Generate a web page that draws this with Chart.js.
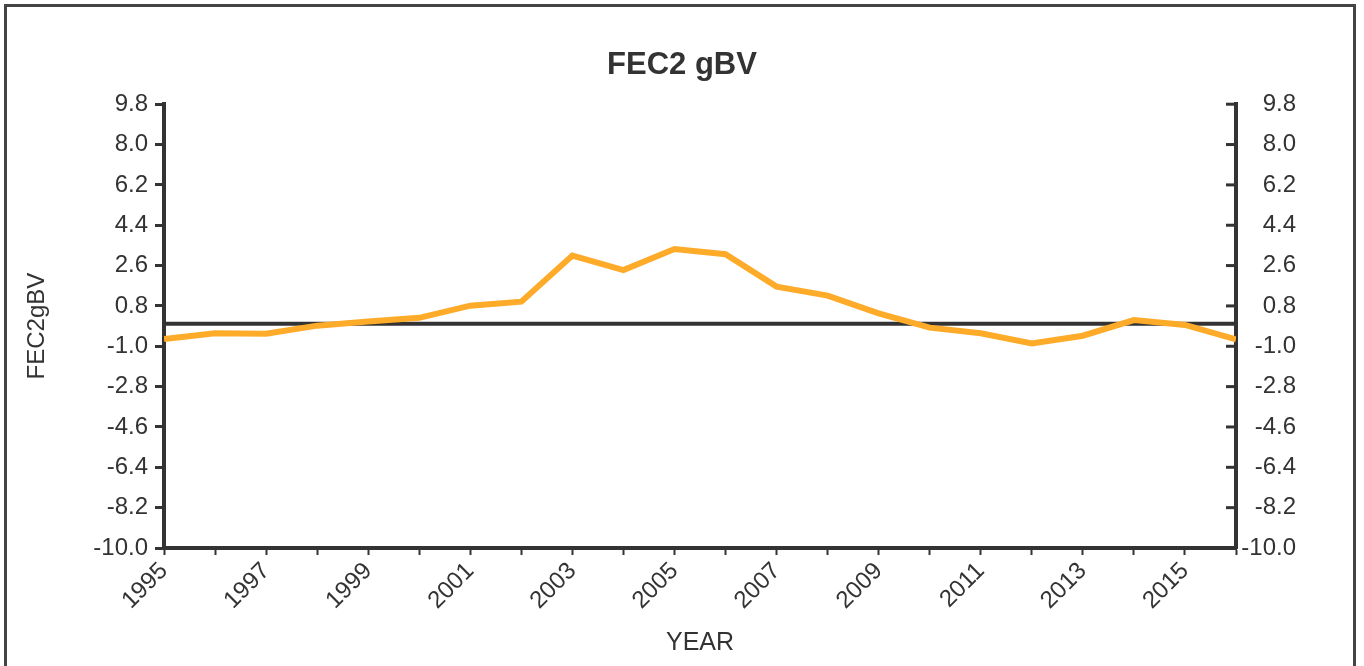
<!DOCTYPE html>
<html>
<head>
<meta charset="utf-8">
<script src="https://cdn.jsdelivr.net/npm/chart.js@4/dist/chart.umd.min.js"></script>
<style>
  body { margin: 0; background: #fff; overflow: hidden; }
  #frame { position: absolute; left: 4px; top: 4px; width: 1346px; height: 700px; border: 3px solid #444; }
  #wrap { position: absolute; left: 0; top: 0; width: 1364px; height: 666px; }
</style>
</head>
<body>
<div id="frame"></div>
<div id="wrap"><canvas id="myChart" width="1364" height="666"></canvas></div>
<script>
// data
const years = [1995, 1996, 1997, 1998, 1999, 2000, 2001, 2002, 2003, 2004, 2005,
               2006, 2007, 2008, 2009, 2010, 2011, 2012, 2013, 2014, 2015, 2016];
const fec2gbv = [-0.68, -0.42, -0.44, -0.08, 0.11, 0.27, 0.81, 0.99, 3.05, 2.40, 3.34,
                 3.11, 1.66, 1.26, 0.47, -0.17, -0.42, -0.87, -0.53, 0.17, -0.05, -0.69];
const yTicks = [-10.0, -8.2, -6.4, -4.6, -2.8, -1.0, 0.8, 2.6, 4.4, 6.2, 8.0, 9.8];
const xTickLabels = [1995, 1997, 1999, 2001, 2003, 2005, 2007, 2009, 2011, 2013, 2015];

const dark = '#333';
const tickFont = { family: 'Liberation Sans, Arial, sans-serif', size: 24 };

function setTicks(scale) {
  scale.ticks = yTicks.map(v => ({ value: v }));
}

// right axis has its tick marks pointing inward
const innerTicks = {
  id: 'innerTicks',
  afterDraw(chart) {
    const s = chart.scales.y2, ctx = chart.ctx, x = chart.chartArea.right;
    ctx.save();
    ctx.strokeStyle = dark;
    ctx.lineWidth = 3;
    s.ticks.forEach(t => {
      const y = s.getPixelForValue(t.value);
      ctx.beginPath();
      ctx.moveTo(x - 10, y);
      ctx.lineTo(x, y);
      ctx.stroke();
    });
    ctx.restore();
  }
};

const ctx = document.getElementById('myChart');

new Chart(ctx, {
  type: 'line',
  data: {
    datasets: [{
      data: years.map((y, i) => ({ x: y, y: fec2gbv[i] })),
      borderColor: '#FDAB29',
      borderWidth: 6,
      pointRadius: 0,
      tension: 0,
      yAxisID: 'y'
    }, {
      data: [{ x: years[0], y: 0 }, { x: years[years.length - 1], y: 0 }],
      borderColor: dark,
      borderWidth: 4,
      pointRadius: 0,
      yAxisID: 'y'
    }]
  },
  options: {
    responsive: false,
    animation: false,
    layout: { padding: { left: 68, right: 68, top: 0, bottom: 0 } },
    plugins: {
      legend: { display: false },
      tooltip: { enabled: false },
      title: {
        display: true,
        text: 'FEC2 gBV',
        color: dark,
        font: { family: 'Liberation Sans, Arial, sans-serif', size: 31, weight: 'bold' },
        padding: { top: 47, bottom: 20 }
      }
    },
    scales: {
      x: {
        type: 'linear',
        min: 1995,
        max: 2016,
        afterFit: s => { s.height = 118; },
        border: { color: dark, width: 4 },
        grid: { drawOnChartArea: false, tickLength: 7, tickWidth: 2, tickColor: dark },
        ticks: {
          stepSize: 1,
          autoSkip: false,
          maxRotation: 45,
          minRotation: 45,
          padding: 2,
          color: dark,
          font: tickFont,
          callback: v => xTickLabels.includes(v) ? String(v) : ''
        },
        title: {
          display: true,
          text: 'YEAR',
          color: dark,
          font: { family: 'Liberation Sans, Arial, sans-serif', size: 25 },
          padding: { top: 4, bottom: 8 }
        }
      },
      y: {
        position: 'left',
        min: -10,
        max: 9.8,
        afterBuildTicks: setTicks,
        afterFit: s => { s.width = 96; },
        border: { color: dark, width: 4 },
        grid: { drawOnChartArea: false, tickLength: 9, tickWidth: 3, tickColor: dark },
        ticks: { padding: 7, color: dark, font: tickFont, callback: v => v.toFixed(1) },
        title: {
          display: true,
          text: 'FEC2gBV',
          color: dark,
          font: { family: 'Liberation Sans, Arial, sans-serif', size: 24 },
          padding: { top: -45, bottom: 0 }
        }
      },
      y2: {
        position: 'right',
        min: -10,
        max: 9.8,
        afterBuildTicks: setTicks,
        afterFit: s => { s.width = 60; },
        border: { color: dark, width: 4 },
        grid: { drawOnChartArea: false, drawTicks: false, tickLength: 0 },
        ticks: { padding: 5, crossAlign: 'far', color: dark, font: tickFont, callback: v => v.toFixed(1) }
      }
    }
  },
  plugins: [innerTicks]
});
</script>
</body>
</html>
